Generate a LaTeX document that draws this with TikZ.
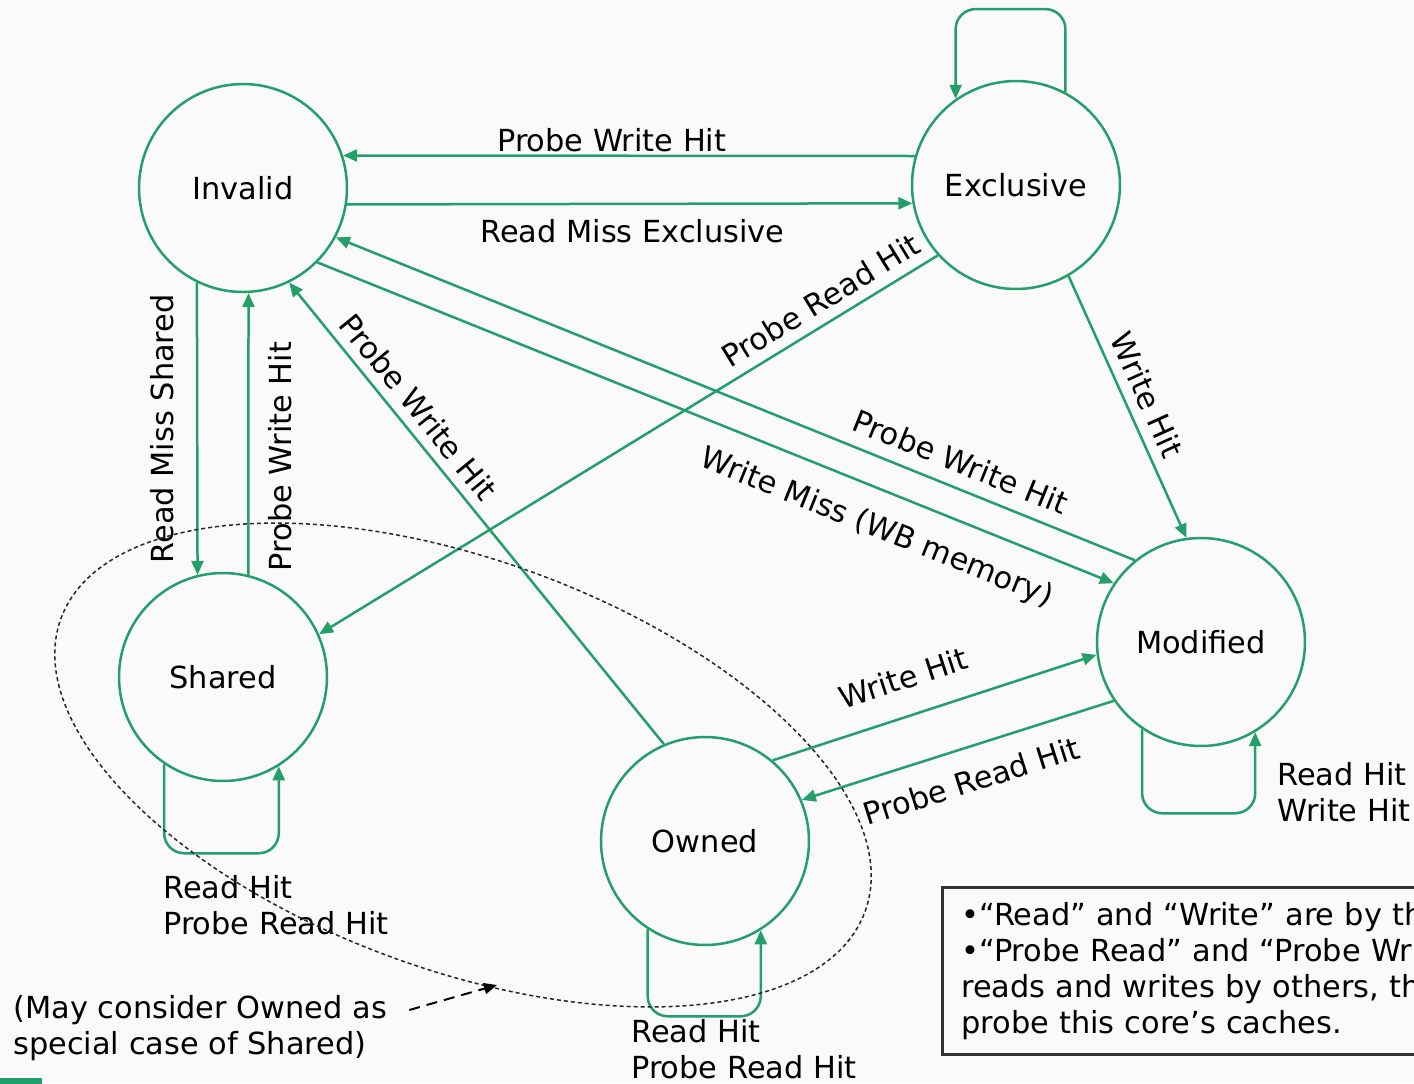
\documentclass[tikz,border=0pt]{standalone}
\usepackage{fontspec}
\setmainfont{DejaVu Sans}
\usetikzlibrary{arrows.meta}
\definecolor{mesigreen}{RGB}{36,158,106}
\begin{document}
\begin{tikzpicture}[x=0.02cm, y=-0.02cm,
        state/.style={circle, draw=mesigreen, line width=0.05cm, minimum size=4.16cm, inner sep=0pt, font=\fontsize{17.3}{20.5}\selectfont},
        trans/.style={draw=mesigreen, line width=0.05cm, -{Triangle[length=0.28cm, width=0.24cm]}},
        selfloop/.style={trans, rounded corners=0.4cm},
        lbl/.style={font=\fontsize{17.3}{20.5}\selectfont, inner sep=0pt},
        hitlist/.style={lbl, align=left, anchor=north west},
        oval/.style={draw=black!85, line width=0.03cm, dash pattern=on 0.08cm off 0.06cm},
        hint/.style={draw=black, line width=0.04cm, dash pattern=on 0.22cm off 0.14cm, -{Triangle[length=0.26cm, width=0.22cm]}},
        notebox/.style={draw=black!80, line width=0.05cm, anchor=north west, align=left, inner xsep=0.38cm, inner ysep=0.3cm, text width=12cm, font=\fontsize{17.3}{20.5}\selectfont}
    ]
    \fill[white!98!black] (0,0) rectangle (1414,1083);
    \useasboundingbox (0,0) rectangle (1414,1083);

    % states
    \node[state] (inv) at (243,188) {Invalid};
    \node[state] (exc) at (1016,185) {Exclusive};
    \node[state] (shr) at (223,677) {Shared};
    \node[state] (mod) at (1201,642) {Modified};
    \node[state] (own) at (705,841) {Owned};

    % transitions
    \draw[trans] (exc.164) -- node[lbl, pos=0.53, above=0.06cm] {Probe Write Hit} (inv.18);
    \draw[trans] (inv.-9) -- node[lbl, pos=0.505, below=0.28cm] {Read Miss Exclusive} (exc.190.5);
    \draw[trans] (exc.222) -- node[lbl, pos=0.17, sloped, above=0.2cm] {Probe Read Hit} (shr.24);
    \draw[trans] (exc.-60) -- node[lbl, pos=0.49, sloped, above=0.2cm] {Write Hit} (mod.98);
    \draw[trans] (mod.129) -- node[lbl, pos=0.23, sloped, above=0.26cm] {Probe Write Hit} (inv.-28);
    \draw[trans] (inv.-45) -- node[lbl, pos=0.72, sloped, below=0.44cm] {Write Miss (WB memory)} (mod.146);
    \draw[trans] (inv.-116) -- node[lbl, pos=0.5, rotate=90, above=0.44cm] {Read Miss Shared} (shr.104);
    \draw[trans] (shr.76) -- node[lbl, pos=0.42, sloped, below=0.38cm] {Probe Write Hit} (inv.-87);
    \draw[trans] (own.113) -- node[lbl, pos=0.7, sloped, above=0.18cm] {Probe Write Hit} (inv.-64);
    \draw[trans] (own.50) -- node[lbl, pos=0.44, sloped, above=0.5cm] {Write Hit} (mod.187);
    \draw[trans] (mod.214) -- node[lbl, pos=0.49, sloped, below=0.4cm] {Probe Read Hit} (own.23);

    % self loops
    \draw[selfloop] (exc.62) -- ++(0,-83) -| (exc.125);
    \draw[selfloop] (shr.-124) -- ++(0,89) -| (shr.-58);
    \draw[selfloop] (own.-123) -- ++(0,87) -| (own.-58);
    \draw[selfloop] (mod.-124) -- ++(0,84) -| (mod.-59);
    \node[hitlist] (shrhits) at (163,875) {Read Hit\\Probe Read Hit};
    \node[hitlist] (ownhits) at (631,1019) {Read Hit\\Probe Read Hit};
    \node[hitlist] (modhits) at (1277,762) {Read Hit\\Write Hit};

    % shared/owned grouping
    \draw[oval, rotate around={-20:(463,765)}] (463,765) ellipse [x radius=8.56cm, y radius=4.1cm];
    \coordinate (ovl) at (497,985);
    \node[hitlist] (consider) at (13,995) {(May consider Owned as\\special case of Shared)};
    \draw[hint] ([xshift=0.44cm, yshift=-0.3cm]consider.north east) -- (ovl);

    % legend
    \node[notebox] (note) at (941,886) {•“Read” and “Write” are by th\\•“Probe Read” and “Probe Wri\\reads and writes by others, th\\probe this core’s caches.};
    \fill[mesigreen] (0,1078) rectangle (42,1090);
\end{tikzpicture}
\end{document}
